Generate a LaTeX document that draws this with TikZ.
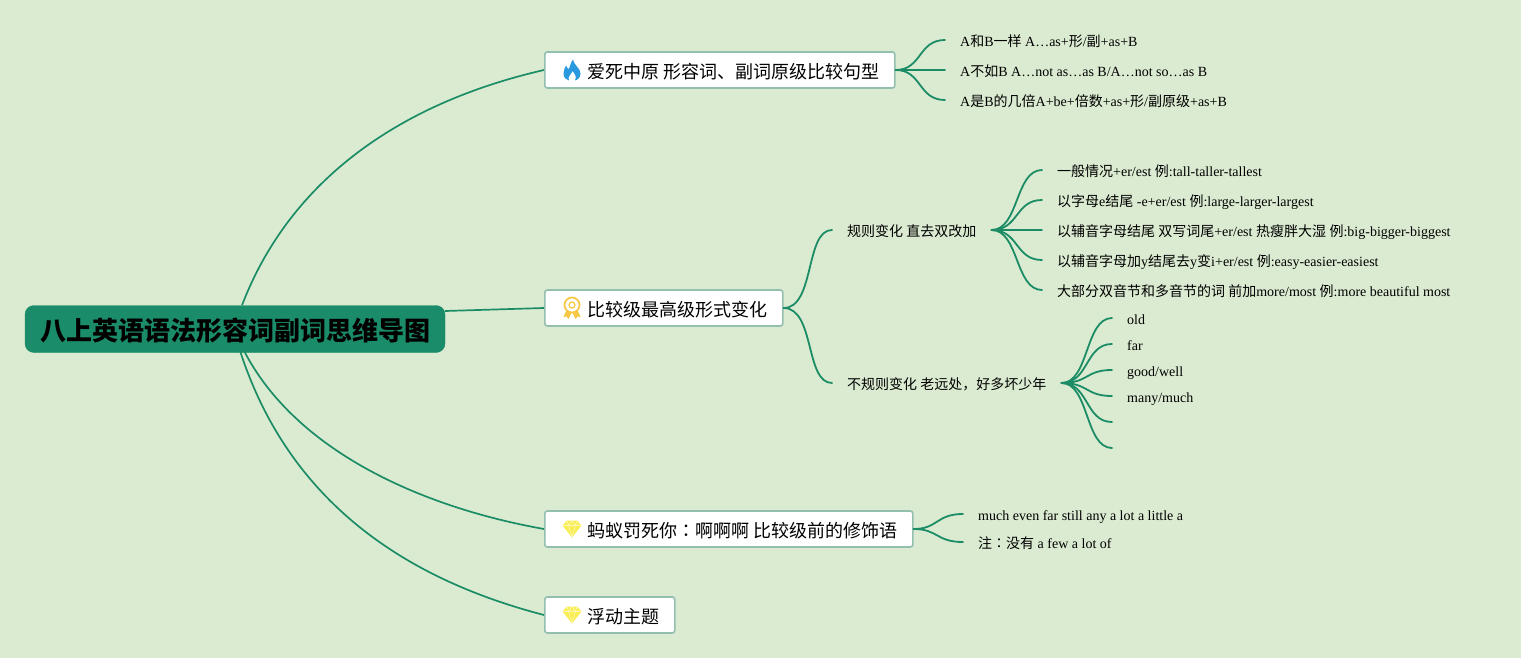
\documentclass[tikz,border=0pt]{standalone}
\usepackage{fontspec}
\setmainfont{Liberation Serif}
\newfontfamily\cjk{Noto Sans CJK SC}
\newfontfamily\cjktc{Noto Sans CJK TC}
\newcommand{\zh}[1]{{\cjk #1}}
\newcommand{\cn}{{\cjktc ：}}
\usetikzlibrary{calc}
\definecolor{bgc}{HTML}{DBEBD1}
\definecolor{linec}{HTML}{1B8C66}
\definecolor{rootc}{HTML}{1B8C6A}
\definecolor{edgec}{HTML}{93BFAE}
\definecolor{flamec}{HTML}{2A9AE0}
\definecolor{medalc}{HTML}{F7C843}
\definecolor{gemc}{HTML}{F8EE55}
\tikzset{
  x=1pt,y=-1pt,
  rootbox/.style={draw=rootc,fill=rootc,rounded corners=9pt,minimum width=420pt,minimum height=47pt,inner sep=0pt,text height=23pt,text depth=0pt,font=\cjk\bfseries\fontsize{26}{30}\selectfont,text=black},
  topicbox/.style={draw=edgec,fill=white,line width=1.6pt,rounded corners=2.5pt,minimum height=36pt,inner sep=0pt,anchor=west,text height=17pt,text depth=0pt,font=\fontsize{18}{22}\selectfont,text=black},
  sublabel/.style={anchor=west,inner xsep=15pt,inner ysep=0pt,text height=13.5pt,text depth=0.5pt,font=\fontsize{14}{17}\selectfont,text=black},
  link/.style={draw=linec,line width=1.8pt,line cap=round},
  mainlink/.style={draw=linec,line width=1.7pt},
  flameicon/.pic={
    \fill[flamec] (1,-10.5) .. controls (1.5,-5) and (8.5,-2) .. (8.5,3.5) .. controls (8.5,8) and (5,10) .. (3,10.5) .. controls (5,7) and (3,4) .. (0.5,1) .. controls (-0.5,4) and (-5,7) .. (-3,10.5) .. controls (-6,10) and (-8.5,7.5) .. (-8.5,3.5) .. controls (-8.5,0) and (-7,-2) .. (-6,-4.5) .. controls (-5,-2) and (-4,-1) .. (-3,-1) .. controls (-2,-4) and (-1,-8) .. (1,-10.5) -- cycle;
  },
  medalicon/.pic={
    \fill[medalc] (-5,1) -- (-8.5,9) -- (-5.5,8.5) -- (-3.5,11) -- (-0.5,5) -- cycle;
    \fill[medalc] (5,1) -- (8.5,9) -- (5.5,8.5) -- (3.5,11) -- (0.5,5) -- cycle;
    \draw[medalc,fill=white,line width=1.7pt] (0,-3) circle[radius=7.5];
    \draw[medalc,line width=1.3pt] (0,-3) circle[radius=3];
  },
  gemicon/.pic={
    \fill[gemc] (-5,-8.5) -- (5,-8.5) -- (9.5,-3.5) -- (0,8.5) -- (-9.5,-3.5) -- cycle;
    \draw[white!55!gemc,line width=0.6pt] (-9.5,-3.5) -- (9.5,-3.5) (-3.5,-3.5) -- (0,8.5) -- (3.5,-3.5) (-5,-8.5) -- (-3.5,-3.5) -- (0,-8.5) -- (3.5,-3.5) -- (5,-8.5);
  }
}
\newcommand{\gap}{\hspace*{43pt}}
\newcommand{\pad}{\hspace*{15pt}}
\begin{document}
\begin{tikzpicture}
\useasboundingbox (0,0) rectangle (1521,658);
\fill[bgc] (0,0) rectangle (1521,658);

% nodes
\node[rootbox] (root) at (235,329) {八上英语语法形容词副词思维导图};
\node[topicbox] (t1) at (544,70) {\gap\zh{爱死中原 形容词、副词原级比较句型}\pad};
\node[topicbox] (t2) at (544,308) {\gap\zh{比较级最高级形式变化}\pad};
\node[topicbox] (t3) at (544,529) {\gap\zh{蚂蚁罚死你}\cn\zh{啊啊啊 比较级前的修饰语}\pad};
\node[topicbox] (t4) at (544,615) {\gap\zh{浮动主题}\pad};
\pic at ($(t1.west)+(28,0)$) {flameicon};
\pic at ($(t2.west)+(28,0)$) {medalicon};
\pic at ($(t3.west)+(28,0)$) {gemicon};
\pic at ($(t4.west)+(28,0)$) {gemicon};

\node[sublabel] (a1) at (945,40) {A\zh{和}B\zh{一样} A…as+\zh{形}/\zh{副}+as+B};
\node[sublabel] (a2) at (945,70) {A\zh{不如}B A…not as…as B/A…not so…as B};
\node[sublabel] (a3) at (945,100) {A\zh{是}B\zh{的几倍}A+be+\zh{倍数}+as+\zh{形}/\zh{副原级}+as+B};

\node[sublabel] (b1) at (832,230) {\zh{规则变化 直去双改加}};
\node[sublabel] (b2) at (832,383) {\zh{不规则变化 老远处，好多坏少年}};

\node[sublabel] (c1) at (1042,170) {\zh{一般情况}+er/est \zh{例}:tall-taller-tallest};
\node[sublabel] (c2) at (1042,200) {\zh{以字母}e\zh{结尾} -e+er/est \zh{例}:large-larger-largest};
\node[sublabel] (c3) at (1042,230) {\zh{以辅音字母结尾 双写词尾}+er/est \zh{热瘦胖大湿} \zh{例}:big-bigger-biggest};
\node[sublabel] (c4) at (1042,260) {\zh{以辅音字母加}y\zh{结尾去}y\zh{变}i+er/est \zh{例}:easy-easier-easiest};
\node[sublabel] (c5) at (1042,290) {\zh{大部分双音节和多音节的词 前加}more/most \zh{例}:more beautiful most};

\node[sublabel] (d1) at (1112,318) {old};
\node[sublabel] (d2) at (1112,344) {far};
\node[sublabel] (d3) at (1112,370) {good/well};
\node[sublabel] (d4) at (1112,396) {many/much};
\coordinate (d5) at (1112,422);
\coordinate (d6) at (1112,448);

\node[sublabel] (e1) at (963,514) {much even far still any a lot a little a};
\node[sublabel] (e2) at (963,542) {\zh{注}\cn\zh{没有} a few a lot of};

% root links
\draw[mainlink] ($(root.north)+(7,0)$) .. controls (290,180) and (400,103) .. (t1.west);
\draw[mainlink] ($(root.east)+(0,-18)$) -- (t2.west);
\draw[mainlink] ($(root.south)+(9,-2)$) .. controls (295,450) and (420,507) .. (t3.west);
\draw[mainlink] ($(root.south)+(5,-2)$) .. controls (285,490) and (390,575) .. (t4.west);

% branch links
\foreach \k in {a1,a2,a3} \draw[link] (t1.east) .. controls (922,70) and (918,0 |- \k.west) .. (\k.west);
\foreach \k in {b1,b2} \draw[link] (t2.east) .. controls (815,308) and (805,0 |- \k.west) .. (\k.west);
\foreach \k in {c1,c2,c3,c4,c5} \draw[link] (b1.east) .. controls (1019,230) and (1015,0 |- \k.west) .. (\k.west);
\foreach \k in {d1,d2,d3,d4} \draw[link] (b2.east) .. controls (1089,383) and (1085,0 |- \k.west) .. (\k.west);
\foreach \k in {d5,d6} \draw[link] (b2.east) .. controls (1089,383) and (1085,0 |- \k) .. (\k);
\foreach \k in {e1,e2} \draw[link] (t3.east) .. controls (938,529) and (936,0 |- \k.west) .. (\k.west);
\end{tikzpicture}
\end{document}
